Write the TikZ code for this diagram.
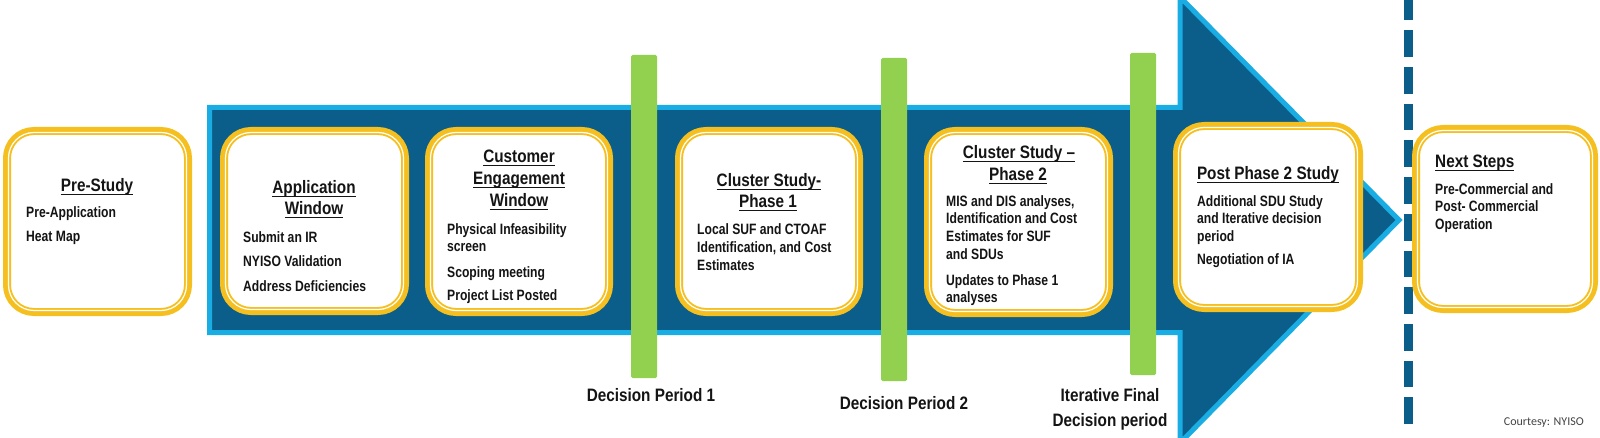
\documentclass[tikz,border=0pt]{standalone}
\usepackage{fontspec}
\newfontfamily\titlefam{Liberation Sans}[FakeStretch=0.85]
\newfontfamily\bodyfam{Liberation Sans}[FakeStretch=0.81]
\newfontfamily\credfam{Carlito}
\definecolor{darkblue}{HTML}{0B5E8A}
\definecolor{lightblue}{HTML}{1AADE4}
\definecolor{gold}{HTML}{F5C01F}
\definecolor{lgreen}{HTML}{92D050}
\definecolor{ink}{HTML}{141414}
\newcommand{\ul}[1]{\setbox0=\hbox{#1}\rlap{\rule[-3.2pt]{\wd0}{1.3pt}}\box0}
\tikzset{
  arrowbody/.style={draw=lightblue, fill=darkblue, line width=5pt, miter limit=4},
  greenbar/.style={fill=lgreen, draw=none, rounded corners=1.5pt},
  dashline/.style={draw=darkblue, line width=9pt, dash pattern=on 26.7pt off 10pt},
  stagebox/.style={rectangle, draw=gold, fill=white, line width=8pt, rounded corners=27pt, inner sep=0pt, outer sep=0pt},
  innerline/.style={draw=white, line width=1.2pt, rounded corners=25.5pt},
  ttl/.style={font=\titlefam\bfseries\fontsize{18}{22}\selectfont, text=ink, anchor=base, inner sep=0pt},
  bdy/.style={font=\bodyfam\bfseries\fontsize{15}{17.5}\selectfont, text=ink, anchor=base west, inner sep=0pt},
  dlab/.style={font=\titlefam\bfseries\fontsize{18}{22}\selectfont, text=ink, anchor=base, inner sep=0pt},
  cred/.style={font=\credfam\fontsize{12}{14}\selectfont, text=ink!80, anchor=base east, inner sep=0pt}
}
\newcommand{\stage}[5]{%
  \node[stagebox, minimum width={#4-#2-8}, minimum height={#5-#3-8}] (#1) at ({(#2+#4)/2},{(#3+#5)/2}) {};
  \draw[innerline] ([shift={(1.5pt,-1.5pt)}]#1.north west) rectangle ([shift={(-1.5pt,1.5pt)}]#1.south east);
}
\begin{document}
\begin{tikzpicture}[x=1pt,y=-1pt]
\useasboundingbox (0,0) rectangle (1600,438);
% big arrow
\draw[arrowbody] (209.5,107.5) -- (1180,107.5) -- (1180,-3) -- (1399,220) -- (1180,443) -- (1180,332.5) -- (209.5,332.5) -- cycle;
% green decision bars
\draw[greenbar] (631,55) rectangle (657,378);
\draw[greenbar] (881,58) rectangle (907,381);
\draw[greenbar] (1130,53) rectangle (1156,375);
% dashed separator
\coordinate (dtop) at (1408,-6.3);
\coordinate (dbot) at (1408,424);
\draw[dashline] (dtop) -- (dbot);
% stage boxes
\stage{pre}{3}{127}{192}{316}
\stage{app}{220}{127}{409}{315}
\stage{cust}{425}{127}{613}{316}
\stage{csa}{675}{127}{863}{316}
\stage{csb}{924}{127}{1113}{317}
\stage{post}{1173}{122}{1363}{312}
\stage{next}{1412}{125}{1598}{313}
% titles
\node[ttl] (t1) at (97,192) {\ul{Pre-Study}};
\node[ttl] (t2a) at (314,194) {\ul{Application}};
\node[ttl] (t2b) at (314,215) {\ul{Window}};
\node[ttl] (t3a) at (519,163) {\ul{Customer}};
\node[ttl] (t3b) at (519,185) {\ul{Engagement}};
\node[ttl] (t3c) at (519,207) {\ul{Window}};
\node[ttl] (t4a) at (769,187) {\ul{Cluster Study-}};
\node[ttl] (t4b) at (768,208) {\ul{Phase 1}};
\node[ttl] (t5a) at (1019,159) {\ul{Cluster Study –}};
\node[ttl] (t5b) at (1018,181) {\ul{Phase 2}};
\node[ttl] (t6) at (1268,180) {\ul{Post Phase 2 Study}};
\node[ttl, anchor=base west] (t7) at (1435,168) {\ul{Next Steps}};
% body lines
\node[bdy] (b1a) at (26,218) {Pre-Application};
\node[bdy] (b1b) at (26,242) {Heat Map};
\node[bdy] (b2a) at (243,243) {Submit an IR};
\node[bdy] (b2b) at (243,267) {NYISO Validation};
\node[bdy] (b2c) at (243,291) {Address Deficiencies};
\node[bdy] (b3a) at (447,235) {Physical Infeasibility};
\node[bdy] (b3b) at (447,252) {screen};
\node[bdy] (b3c) at (447,277) {Scoping meeting};
\node[bdy] (b3d) at (447,300) {Project List Posted};
\node[bdy] (b4a) at (697,235) {Local SUF and CTOAF};
\node[bdy] (b4b) at (697,253) {Identification, and Cost};
\node[bdy] (b4c) at (697,270) {Estimates};
\node[bdy] (b5a) at (946,207) {MIS and DIS analyses,};
\node[bdy] (b5b) at (946,224) {Identification and Cost};
\node[bdy] (b5c) at (946,242) {Estimates for SUF};
\node[bdy] (b5d) at (946,259) {and SDUs};
\node[bdy] (b5e) at (946,285) {Updates to Phase 1};
\node[bdy] (b5f) at (946,302) {analyses};
\node[bdy] (b6a) at (1197,207) {Additional SDU Study};
\node[bdy] (b6b) at (1197,224) {and Iterative decision};
\node[bdy] (b6c) at (1197,242) {period};
\node[bdy] (b6d) at (1197,265) {Negotiation of IA};
\node[bdy] (b7a) at (1435,195) {Pre-Commercial and};
\node[bdy] (b7b) at (1435,212) {Post- Commercial};
\node[bdy] (b7c) at (1435,230) {Operation};
% decision labels
\node[dlab] (d1) at (651,401) {Decision Period 1};
\node[dlab] (d2) at (904,409) {Decision Period 2};
\node[dlab] (d3a) at (1110,401) {Iterative Final};
\node[dlab] (d3b) at (1110,426) {Decision period};
% credit
\node[cred] (cr) at (1584,425) {Courtesy: NYISO};
\end{tikzpicture}
\end{document}
